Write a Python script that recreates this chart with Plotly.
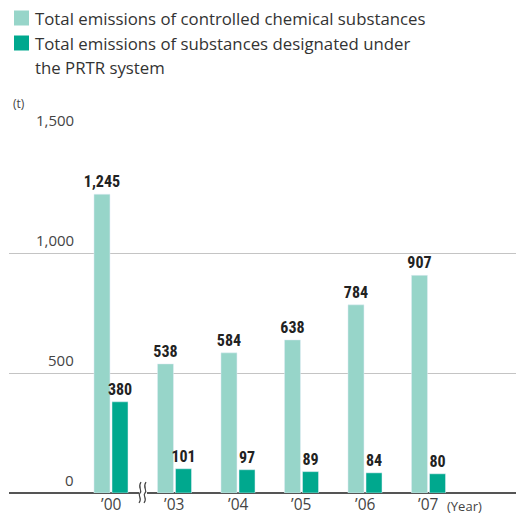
import plotly.graph_objects as go

years = ["\u201900", "\u201903", "\u201904", "\u201905", "\u201906", "\u201907"]
controlled = [1245, 538, 584, 638, 784, 907]
prtr = [380, 101, 97, 89, 84, 80]
y_ticks = [0, 500, 1000, 1500]
y_tick_labels = ["0", "500", "1,000", "1,500"]
legend_lines = [
    ["Total emissions of controlled chemical substances"],
    ["Total emissions of substances designated under", "the PRTR system"],
]
colors = ["#97d5c9", "#00a88e"]

# the page body adds an 8px margin, so the figure is drawn 8px smaller and shifted
OFF = 8
W, H = 524 - OFF, 519 - OFF
L, R, T, B = 9 - OFF, 0, 133 - OFF, 26
pw = W - L - R
ph = H - T - B


def px(x):
    return (x - OFF - L) / pw


def py(y):
    return (H - B - (y - OFF)) / ph


FONT = "Open Sans, Noto Sans, sans-serif"
BOLD = "Liberation Sans Narrow, Arial Narrow, Roboto Condensed, Roboto, sans-serif"

fig = go.Figure()
bw = 0.252
for vals, col, off in ((controlled, colors[0], -0.268), (prtr, colors[1], 0.016)):
    fig.add_trace(go.Bar(x=years, y=vals, marker_color=col, width=bw, offset=off,
                         texttemplate="%{y:,}", textposition="outside", cliponaxis=False,
                         constraintext="none",
                         textfont=dict(family=BOLD, size=16, color="#222", weight="bold"),
                         showlegend=False))

annotations = []
shapes = []
# y tick labels
for v, lab in zip(y_ticks, y_tick_labels):
    annotations.append(dict(x=px(76), y=v, xref="paper", yref="y", text=lab, showarrow=False,
                            xanchor="right", yanchor="bottom", yshift=1,
                            font=dict(family=FONT, size=15, color="#444")))
# x category labels
for yr in years:
    annotations.append(dict(x=yr, y=py(517), xref="x", yref="paper", text=yr, showarrow=False,
                            xanchor="center", yanchor="bottom",
                            font=dict(family=FONT, size=15.5, color="#444")))
# legend
rows = [18, 43]
for i, lines in enumerate(legend_lines):
    yc = rows[i]
    shapes.append(dict(type="rect", xref="paper", yref="paper", x0=px(14), x1=px(29),
                       y0=py(yc - 7.5), y1=py(yc + 7.5), fillcolor=colors[i], line_width=0))
    for j, t in enumerate(lines):
        annotations.append(dict(x=px(33), y=py(yc + 25 * j), xref="paper", yref="paper", text=t,
                                showarrow=False, xanchor="left", yanchor="middle",
                                font=dict(family=FONT, size=16.8, color="#333")))
annotations.append(dict(x=px(11), y=py(103), xref="paper", yref="paper", text="(t)", showarrow=False,
                        xanchor="left", yanchor="middle", font=dict(family=FONT, size=12, color="#444")))
annotations.append(dict(x=px(445), y=py(517), xref="paper", yref="paper", text="(Year)", showarrow=False,
                        xanchor="left", yanchor="bottom", font=dict(family=FONT, size=13, color="#444")))

# axis break mark
shapes.append(dict(type="rect", xref="paper", yref="paper", x0=px(139), x1=px(147),
                   y0=py(497), y1=py(489), fillcolor="white", line_width=0))
for dx in (0, 5):
    x0 = 140 + dx
    path = "M {},{} C {},{} {},{} {},{} C {},{} {},{} {},{}".format(
        px(x0 + 1), py(482), px(x0 - 3), py(488), px(x0 + 3), py(490), px(x0), py(493),
        px(x0 - 3), py(496), px(x0 + 3), py(498), px(x0 - 1), py(503))
    shapes.append(dict(type="path", xref="paper", yref="paper", path=path,
                       line=dict(color="#444", width=1.2)))

fig.update_layout(
    width=W, height=H, margin=dict(l=L, r=R, t=T, b=B),
    paper_bgcolor="white", plot_bgcolor="white",
    barmode="overlay",
    xaxis=dict(range=[-1.606, 6.504], showgrid=False, zeroline=False, showline=False,
               ticks="", showticklabels=False, automargin=False),
    yaxis=dict(range=[0, 1500], tickvals=y_ticks, showticklabels=False, showgrid=True,
               gridcolor="#c4c4c4", gridwidth=1, zeroline=True, zerolinecolor="#555",
               zerolinewidth=2, showline=False, automargin=False),
    annotations=annotations, shapes=shapes,
)
fig.write_html("out.html")
